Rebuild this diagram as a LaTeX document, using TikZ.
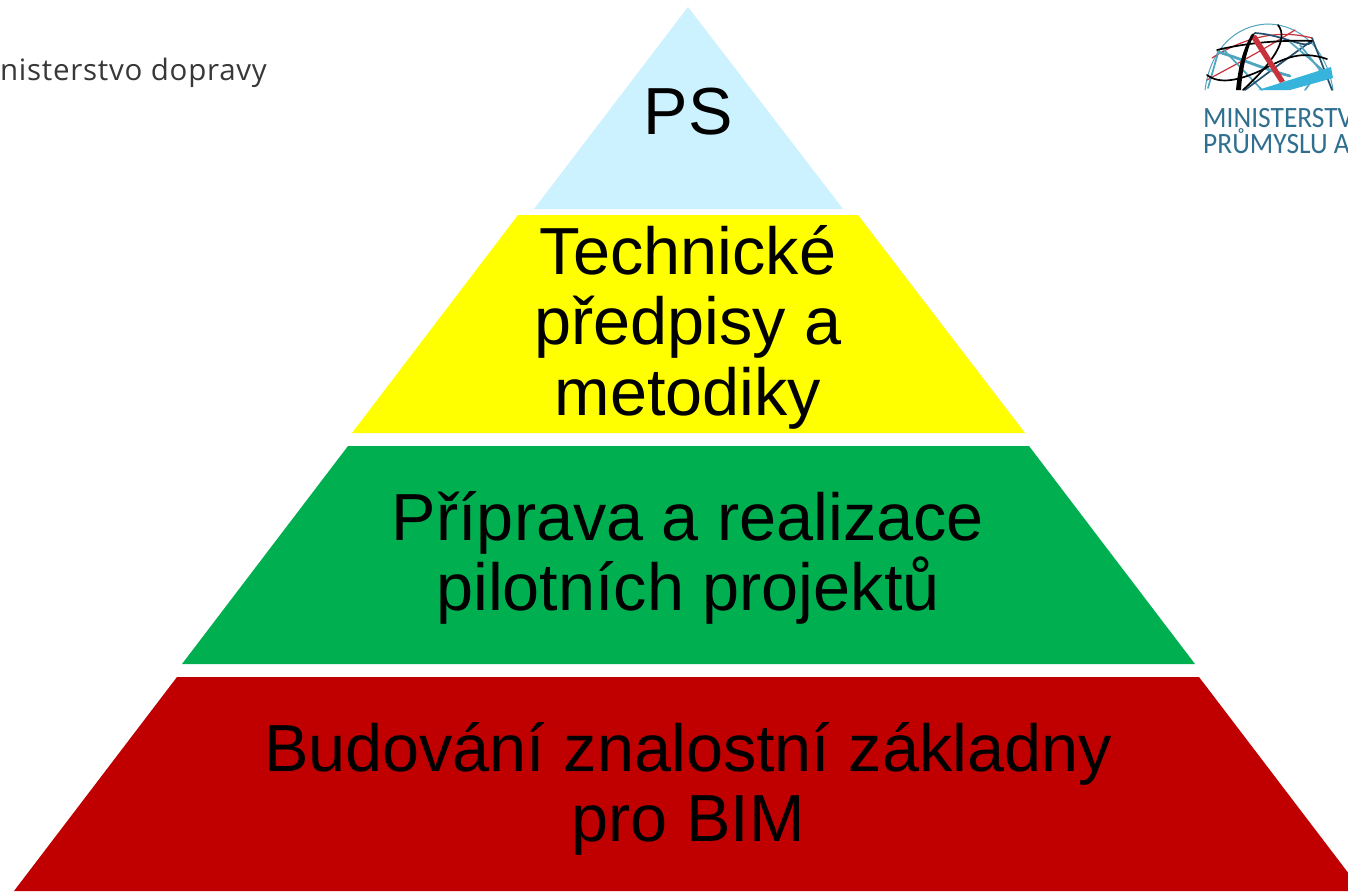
\documentclass[tikz,border=0pt]{standalone}
\usepackage{fontspec}
\setmainfont{Liberation Sans}
\newfontfamily\logofont[FakeStretch=0.93]{Carlito}
\newfontfamily\motfont[LetterSpace=2.5]{Open Sans}
\definecolor{tierblue}{HTML}{CCF1FF}
\definecolor{tieryellow}{HTML}{FFFF00}
\definecolor{tiergreen}{HTML}{00B050}
\definecolor{tierred}{HTML}{C00000}
\definecolor{logotext}{HTML}{2F6F8F}
\definecolor{logocyan}{HTML}{36B4DC}
\definecolor{logonavy}{HTML}{24506E}
\definecolor{logored}{HTML}{C8323C}
\definecolor{logoteal}{HTML}{4FA5BE}
\tikzset{
  tier/.style={draw=none},
  tiertext/.style={font=\fontsize{66.6}{70.5}\selectfont,align=center,text=black,inner sep=0pt},
  motstext/.style={font=\motfont\fontsize{29.5}{29.5}\selectfont,text=black!78,anchor=base east,inner sep=0pt},
  logotxt/.style={font=\logofont\fontsize{29.5}{29.5}\selectfont,text=logotext,anchor=base west,inner sep=0pt},
  gl/.style={line width=1.7pt,line cap=round}
}
\begin{document}
\begin{tikzpicture}[x=1pt,y=-1pt]
\useasboundingbox (0,0) rectangle (1348,891);
\clip (0,0) rectangle (1348,891);
\fill[white] (0,0) rectangle (1348,891);
% pyramid tiers
\fill[tier,tierblue] (688,7) -- (843,209) -- (534,209) -- cycle;
\fill[tier,tieryellow] (518,215) -- (858,215) -- (1025,433) -- (352,433) -- cycle;
\fill[tier,tiergreen] (348,446) -- (1029,446) -- (1195,664) -- (182,664) -- cycle;
\fill[tier,tierred] (177,677) -- (1199,677) -- (1362,891) -- (14,891) -- cycle;
\node[tiertext] (ps) at (688,112) {PS};
\node[tiertext] (tech) at (688,327) {Technické\\předpisy a\\metodiky};
\node[tiertext] (prip) at (688,558) {Příprava a realizace\\pilotních projektů};
\node[tiertext] (bud) at (688,789) {Budování znalostní základny\\pro BIM};
% left wordmark
\node[motstext] (mdwords) at (267,80) {nisterstvo dopravy};
% right logo globe
\draw[gl,logoteal,line width=1pt] (1205,90) .. controls (1210,50) and (1235,25) .. (1268,24) .. controls (1305,25) and (1328,55) .. (1333,90);
\draw[gl,logored,line width=1.2pt] (1207,80) .. controls (1225,70) and (1255,55) .. (1295,30);
\draw[gl,logored,line width=1.2pt] (1212,58) .. controls (1240,40) and (1275,28) .. (1312,38);
\draw[gl,logoteal] (1222,48) -- (1262,90);
\draw[gl,logoteal] (1218,53) -- (1208,88);
\draw[gl,logonavy] (1312,38) -- (1332,90);
\draw[gl,logonavy] (1310,42) .. controls (1285,60) and (1265,75) .. (1245,90);
\draw[gl,logoteal] (1300,45) -- (1320,70) -- (1305,90);
\draw[gl,logonavy] (1255,33) .. controls (1285,35) and (1305,50) .. (1312,42);
\draw[gl,logoteal] (1290,42) -- (1325,72);
\draw[gl,logoteal,line width=2.8pt] (1218,52) .. controls (1240,58) and (1260,68) .. (1290,76);
\draw[gl,black] (1217,50) .. controls (1250,42) and (1285,40) .. (1312,41);
\draw[gl,black] (1207,75) .. controls (1220,85) and (1240,80) .. (1262,70) .. controls (1285,58) and (1300,50) .. (1327,59);
\draw[gl,black] (1278,25) .. controls (1290,40) and (1270,65) .. (1243,90);
\fill[logored] (1250,36) -- (1256,35) -- (1285,81) -- (1280,83) -- cycle;
\fill[black] (1255,33) .. controls (1247,48) and (1242,70) .. (1241,90) -- (1236,90) .. controls (1238,68) and (1243,48) .. (1252,34) -- cycle;
\fill[logocyan] (1258,90) -- (1331,67) -- (1333,78) -- (1290,90) -- cycle;
% right logo wordmark
\node[logotxt] (mpo1) at (1203,127) {MINISTERSTV};
\node[logotxt] (mpo2) at (1203,153) {PRŮMYSLU A};
\end{tikzpicture}
\end{document}
